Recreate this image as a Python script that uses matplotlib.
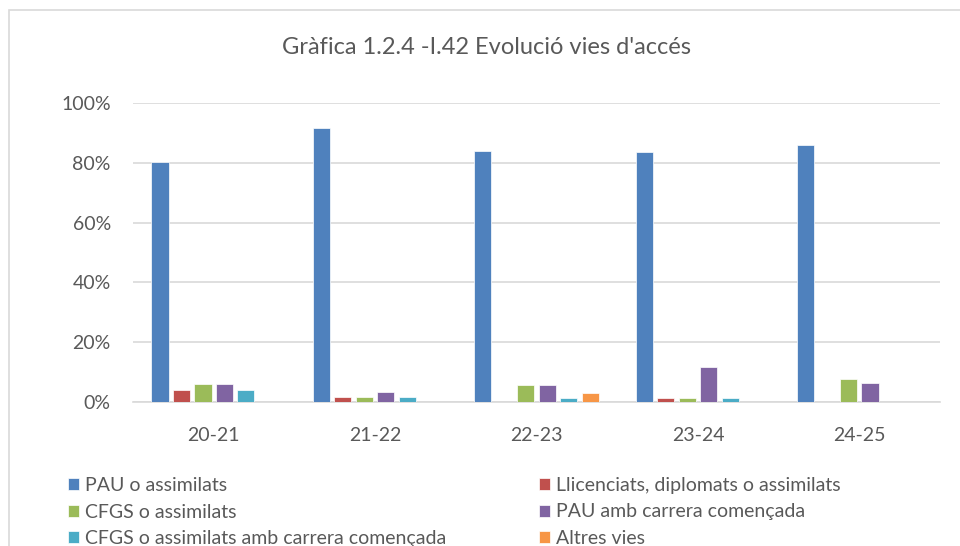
import numpy as np
import matplotlib.pyplot as plt
from matplotlib.patches import Rectangle

plt.rcParams['font.family'] = ['Lato', 'DejaVu Sans']

# cursos
cursos = ['20-21', '21-22', '22-23', '23-24', '24-25']

# percentatges per via d'accés
pau = [0.803, 0.917, 0.838, 0.836, 0.858]
llicenciats = [0.039, 0.017, 0.0, 0.015, 0.0]
cfgs = [0.059, 0.017, 0.058, 0.015, 0.078]
pau_carrera = [0.059, 0.032, 0.058, 0.118, 0.062]
cfgs_carrera = [0.039, 0.017, 0.013, 0.015, 0.0]
altres = [0.0, 0.0, 0.030, 0.0, 0.0]

series = [pau, llicenciats, cfgs, pau_carrera, cfgs_carrera, altres]
noms = ['PAU o assimilats', 'Llicenciats, diplomats o assimilats',
        'CFGS o assimilats', 'PAU amb carrera començada',
        'CFGS o assimilats amb carrera començada', 'Altres vies']
colors = ['#4F81BD', '#C0504D', '#9BBB59', '#8064A2', '#4BACC6', '#F79646']

fig = plt.figure(figsize=(9.6, 5.46), dpi=100)
ax = fig.add_axes([133 / 960, 1 - 402 / 546, 807 / 960, 299 / 546])

# marc del gràfic
fig.patches.append(Rectangle((9 / 960, -0.1), 1.2, 1 - 10 / 546 + 0.1,
                             transform=fig.transFigure, fill=False,
                             edgecolor='#D9D9D9', linewidth=1.2))

x = np.arange(len(cursos))
pas = 0.133
amplada = 0.106
barres = []
for i, (vals, nom, c) in enumerate(zip(series, noms, colors)):
    pos = x + (i - 2.5) * pas
    b = ax.bar(pos, vals, amplada, color=c, label=nom, zorder=3,
               edgecolor='white', linewidth=0.5)
    barres.append(b)

ax.set_xlim(-0.5, len(cursos) - 0.5)
ax.set_ylim(0, 1.0)
ax.set_yticks(np.arange(0, 1.01, 0.2))
ax.set_yticklabels([f'{int(round(v * 100))}%' for v in np.arange(0, 1.01, 0.2)])
ax.set_xticks(x)
ax.set_xticklabels(cursos)
ax.tick_params(axis='both', length=0, labelsize=14, colors='#595959')
ax.tick_params(axis='y', pad=16)
ax.tick_params(axis='x', pad=18)
ax.grid(axis='y', color='#D9D9D9', linewidth=1.2, zorder=0)
for s in ['top', 'right', 'left']:
    ax.spines[s].set_visible(False)
ax.spines['bottom'].set_color('#D9D9D9')
ax.spines['bottom'].set_linewidth(1.2)

fig.text(487 / 960, 1 - 48 / 546, "Gràfica 1.2.4 -I.42 Evolució vies d'accés",
         ha='center', va='center', fontsize=17, color='#595959')

# ordre per files com a l'original
ordre = [0, 2, 4, 1, 3, 5]
ax.legend([barres[i] for i in ordre], [noms[i] for i in ordre],
          loc='upper left', bbox_to_anchor=(60 / 960, 1 - 469 / 546),
          bbox_transform=fig.transFigure, ncol=2, frameon=False,
          fontsize=14, labelcolor='#595959', handlelength=0.57,
          handleheight=0.57, handletextpad=0.3, columnspacing=4.8,
          labelspacing=0.5, borderaxespad=0)

fig.savefig('out.png', dpi=100)
